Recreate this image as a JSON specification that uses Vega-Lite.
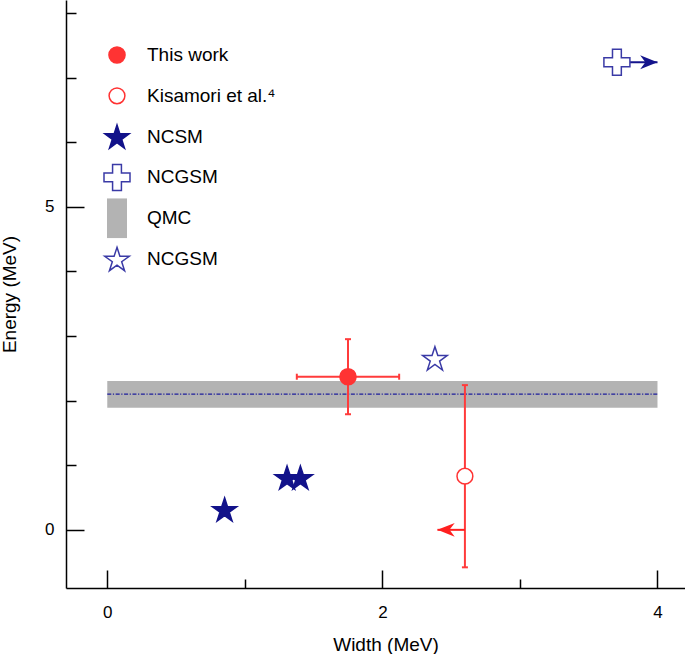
{
  "$schema": "https://vega.github.io/schema/vega-lite/v6.json",
  "width": 619,
  "height": 588,
  "autosize": {"type": "none"},
  "padding": {"left": 66, "top": 0, "right": 0, "bottom": 66},
  "background": "white",
  "config": {"view": {"stroke": null}, "font": "Liberation Sans"},
  "datasets": {
    "points": [
      {"series": "This work", "x": 1.75, "y": 2.37},
      {"series": "Kisamori et al.⁴", "x": 2.6, "y": 0.83},
      {"series": "NCSM", "x": 0.853, "y": 0.316},
      {"series": "NCSM", "x": 1.307, "y": 0.811},
      {"series": "NCSM", "x": 1.404, "y": 0.811},
      {"series": "NCGSM", "x": 3.705, "y": 7.236},
      {"series": "NCGSM (star)", "x": 2.382, "y": 2.654}
    ],
    "xerr": [
      {"series": "This work", "y": 2.37, "xlo": 1.378, "xhi": 2.122}
    ],
    "yerr": [
      {"series": "This work", "x": 1.75, "ylo": 1.789, "yhi": 2.951},
      {"series": "Kisamori et al.⁴", "x": 2.6, "ylo": -0.58, "yhi": 2.24}
    ],
    "band": [
      {"series": "QMC", "xlo": 0, "xhi": 4, "ylo": 1.889, "yhi": 2.302, "y": 2.101}
    ],
    "limits": [
      {"series": "Kisamori et al.⁴", "dir": "left", "from": 2.6, "to": 2.4, "y": 0.0},
      {"series": "NCGSM", "dir": "right", "from": 3.705, "to": 4.0, "y": 7.236}
    ]
  },
  "layer": [
    {
      "data": {"name": "band"},
      "mark": {"type": "rect", "fill": "#b3b3b3", "stroke": null},
      "encoding": {
        "x": {"field": "xlo", "type": "quantitative", "title": "Width (MeV)",
          "scale": {"domain": [-0.3, 4.2], "nice": false, "zero": false},
          "axis": {
            "values": [0, 0.5, 1, 1.5, 2, 2.5, 3, 3.5, 4],
            "format": "d",
            "labelExpr": "datum.value % 2 === 0 ? datum.label : ''",
            "tickSize": {"condition": {"test": "datum.value % 2 === 0", "value": -18}, "value": -9},
            "labelPadding": 34,
            "labelFontSize": 17,
            "labelColor": "black",
            "labelFlush": false,
            "labelOverlap": false,
            "domainColor": "black",
            "domainWidth": 1.5,
            "tickColor": "black",
            "tickWidth": 1.5,
            "grid": false,
            "titleFontSize": 19,
            "titleFontWeight": "normal",
            "titleColor": "black",
            "titleX": 319.5,
            "titleY": 62,
            "titleBaseline": "alphabetic"
          }
        },
        "x2": {"field": "xhi"},
        "y": {"field": "ylo", "type": "quantitative", "title": "Energy (MeV)",
          "scale": {"domain": [-0.9, 8.2], "nice": false, "zero": false},
          "axis": {
            "values": [0, 1, 2, 3, 4, 5, 6, 7, 8],
            "format": "d",
            "labelExpr": "datum.value === 0 || datum.value === 5 ? datum.label : ''",
            "tickSize": {"condition": {"test": "datum.value === 0 || datum.value === 5", "value": -18}, "value": -10},
            "labelPadding": 30,
            "labelFontSize": 17,
            "labelColor": "black",
            "labelFlush": false,
            "labelOverlap": false,
            "domainColor": "black",
            "domainWidth": 1.5,
            "tickColor": "black",
            "tickWidth": 1.5,
            "grid": false,
            "titleFontSize": 19,
            "titleFontWeight": "normal",
            "titleColor": "black",
            "titleAngle": 270,
            "titleX": -51,
            "titleY": 294,
            "titleAlign": "center",
            "titleBaseline": "alphabetic"
          }
        },
        "y2": {"field": "yhi"}
      }
    },
    {
      "data": {"name": "band"},
      "mark": {"type": "rule", "color": "#1e1e9c", "strokeWidth": 1.3, "strokeDash": [4, 1.6, 1.2, 1.6]},
      "encoding": {
        "x": {"field": "xlo", "type": "quantitative", "title": "Width (MeV)", "scale": {"domain": [-0.3, 4.2], "nice": false, "zero": false}},
        "x2": {"field": "xhi"},
        "y": {"field": "y", "type": "quantitative", "title": "Energy (MeV)", "scale": {"domain": [-0.9, 8.2], "nice": false, "zero": false}}
      }
    },
    {
      "data": {"name": "xerr"},
      "mark": {"type": "rule", "color": "#ff3b3b", "strokeWidth": 2},
      "encoding": {
        "x": {"field": "xlo", "type": "quantitative", "title": "Width (MeV)", "scale": {"domain": [-0.3, 4.2], "nice": false, "zero": false}},
        "x2": {"field": "xhi"},
        "y": {"field": "y", "type": "quantitative", "title": "Energy (MeV)", "scale": {"domain": [-0.9, 8.2], "nice": false, "zero": false}}
      }
    },
    {
      "data": {"name": "xerr"},
      "mark": {"type": "tick", "orient": "vertical", "color": "#ff3b3b", "size": 6, "thickness": 2, "opacity": 1},
      "encoding": {
        "x": {"field": "xlo", "type": "quantitative", "title": "Width (MeV)", "scale": {"domain": [-0.3, 4.2], "nice": false, "zero": false}},
        "y": {"field": "y", "type": "quantitative", "title": "Energy (MeV)", "scale": {"domain": [-0.9, 8.2], "nice": false, "zero": false}}
      }
    },
    {
      "data": {"name": "xerr"},
      "mark": {"type": "tick", "orient": "vertical", "color": "#ff3b3b", "size": 6, "thickness": 2, "opacity": 1},
      "encoding": {
        "x": {"field": "xhi", "type": "quantitative", "title": "Width (MeV)", "scale": {"domain": [-0.3, 4.2], "nice": false, "zero": false}},
        "y": {"field": "y", "type": "quantitative", "title": "Energy (MeV)", "scale": {"domain": [-0.9, 8.2], "nice": false, "zero": false}}
      }
    },
    {
      "data": {"name": "yerr"},
      "mark": {"type": "rule", "color": "#ff3b3b", "strokeWidth": 2},
      "encoding": {
        "x": {"field": "x", "type": "quantitative", "title": "Width (MeV)", "scale": {"domain": [-0.3, 4.2], "nice": false, "zero": false}},
        "y": {"field": "ylo", "type": "quantitative", "title": "Energy (MeV)", "scale": {"domain": [-0.9, 8.2], "nice": false, "zero": false}},
        "y2": {"field": "yhi"}
      }
    },
    {
      "data": {"name": "yerr"},
      "mark": {"type": "tick", "orient": "horizontal", "color": "#ff3b3b", "size": 6, "thickness": 2, "opacity": 1},
      "encoding": {
        "x": {"field": "x", "type": "quantitative", "title": "Width (MeV)", "scale": {"domain": [-0.3, 4.2], "nice": false, "zero": false}},
        "y": {"field": "ylo", "type": "quantitative", "title": "Energy (MeV)", "scale": {"domain": [-0.9, 8.2], "nice": false, "zero": false}}
      }
    },
    {
      "data": {"name": "yerr"},
      "mark": {"type": "tick", "orient": "horizontal", "color": "#ff3b3b", "size": 6, "thickness": 2, "opacity": 1},
      "encoding": {
        "x": {"field": "x", "type": "quantitative", "title": "Width (MeV)", "scale": {"domain": [-0.3, 4.2], "nice": false, "zero": false}},
        "y": {"field": "yhi", "type": "quantitative", "title": "Energy (MeV)", "scale": {"domain": [-0.9, 8.2], "nice": false, "zero": false}}
      }
    },
    {
      "data": {"name": "limits"},
      "transform": [{"filter": "datum.dir === 'left'"}],
      "mark": {"type": "rule", "color": "#ff2020", "strokeWidth": 2},
      "encoding": {
        "x": {"field": "from", "type": "quantitative", "title": "Width (MeV)", "scale": {"domain": [-0.3, 4.2], "nice": false, "zero": false}},
        "x2": {"field": "to"},
        "y": {"field": "y", "type": "quantitative", "title": "Energy (MeV)", "scale": {"domain": [-0.9, 8.2], "nice": false, "zero": false}}
      }
    },
    {
      "data": {"name": "limits"},
      "transform": [{"filter": "datum.dir === 'left'"}],
      "mark": {"type": "point", "filled": true, "opacity": 1, "color": "#ff2020", "size": 300, "shape": "M0,0L2,-0.8L1.4,0L2,0.8Z"},
      "encoding": {
        "x": {"field": "to", "type": "quantitative", "title": "Width (MeV)", "scale": {"domain": [-0.3, 4.2], "nice": false, "zero": false}},
        "y": {"field": "y", "type": "quantitative", "title": "Energy (MeV)", "scale": {"domain": [-0.9, 8.2], "nice": false, "zero": false}}
      }
    },
    {
      "data": {"name": "limits"},
      "transform": [{"filter": "datum.dir === 'right'"}],
      "mark": {"type": "rule", "color": "#14148c", "strokeWidth": 2},
      "encoding": {
        "x": {"field": "from", "type": "quantitative", "title": "Width (MeV)", "scale": {"domain": [-0.3, 4.2], "nice": false, "zero": false}},
        "x2": {"field": "to"},
        "y": {"field": "y", "type": "quantitative", "title": "Energy (MeV)", "scale": {"domain": [-0.9, 8.2], "nice": false, "zero": false}}
      }
    },
    {
      "data": {"name": "limits"},
      "transform": [{"filter": "datum.dir === 'right'"}],
      "mark": {"type": "point", "filled": true, "opacity": 1, "color": "#14148c", "size": 300, "shape": "M0,0L-2,-0.8L-1.4,0L-2,0.8Z"},
      "encoding": {
        "x": {"field": "to", "type": "quantitative", "title": "Width (MeV)", "scale": {"domain": [-0.3, 4.2], "nice": false, "zero": false}},
        "y": {"field": "y", "type": "quantitative", "title": "Energy (MeV)", "scale": {"domain": [-0.9, 8.2], "nice": false, "zero": false}}
      }
    },
    {
      "data": {"name": "points"},
      "mark": {"type": "point", "filled": true, "opacity": 1, "strokeWidth": 1.5},
      "encoding": {
        "x": {"field": "x", "type": "quantitative", "title": "Width (MeV)", "scale": {"domain": [-0.3, 4.2], "nice": false, "zero": false}},
        "y": {"field": "y", "type": "quantitative", "title": "Energy (MeV)", "scale": {"domain": [-0.9, 8.2], "nice": false, "zero": false}},
        "shape": {
          "field": "series", "type": "nominal",
          "scale": {
            "domain": ["This work", "Kisamori et al.⁴", "NCSM", "NCGSM", "QMC", "NCGSM (star)"],
            "range": [
              "circle",
              "circle",
              "M0,-0.9045L0.2245,-0.2135L0.9511,-0.2135L0.3633,0.2135L0.5878,0.9045L0,0.4775L-0.5878,0.9045L-0.3633,0.2135L-0.9511,-0.2135L-0.2245,-0.2135Z",
              "M-1,-0.34H-0.34V-1H0.34V-0.34H1V0.34H0.34V1H-0.34V0.34H-1Z",
              "M-0.5,-1H0.5V1H-0.5Z",
              "M0,-0.9045L0.2245,-0.2135L0.9511,-0.2135L0.3633,0.2135L0.5878,0.9045L0,0.4775L-0.5878,0.9045L-0.3633,0.2135L-0.9511,-0.2135L-0.2245,-0.2135Z"
            ]
          },
          "legend": {
            "title": null,
            "orient": "none",
            "legendX": 30,
            "legendY": 35,
            "direction": "vertical",
            "columns": 1,
            "clipHeight": 40,
            "rowPadding": 0.8,
            "gridAlign": "all",
            "padding": 0,
            "labelOffset": 9,
            "labelFontSize": 19,
            "labelFont": "Liberation Sans",
            "labelColor": "black",
            "labelLimit": 400,
            "labelBaseline": "middle",
            "symbolStrokeWidth": 1.5,
            "symbolOpacity": 1,
            "labelExpr": "datum.label === 'NCGSM (star)' ? 'NCGSM' : datum.label"
          }
        },
        "fill": {
          "field": "series", "type": "nominal",
          "scale": {
            "domain": ["This work", "Kisamori et al.⁴", "NCSM", "NCGSM", "QMC", "NCGSM (star)"],
            "range": ["#ff3333", "#ffffff", "#12128a", "#ffffff", "#b3b3b3", "#ffffff"]
          }
        },
        "stroke": {
          "field": "series", "type": "nominal",
          "scale": {
            "domain": ["This work", "Kisamori et al.⁴", "NCSM", "NCGSM", "QMC", "NCGSM (star)"],
            "range": ["#ff3333", "#ff3333", "#12128a", "#3a3aa6", "transparent", "#3a3aa6"]
          }
        },
        "size": {
          "field": "series", "type": "nominal",
          "scale": {
            "type": "ordinal",
            "domain": ["This work", "Kisamori et al.⁴", "NCSM", "NCGSM", "QMC", "NCGSM (star)"],
            "range": [260, 250, 655, 676, 1600, 665]
          }
        }
      }
    }
  ]
}
